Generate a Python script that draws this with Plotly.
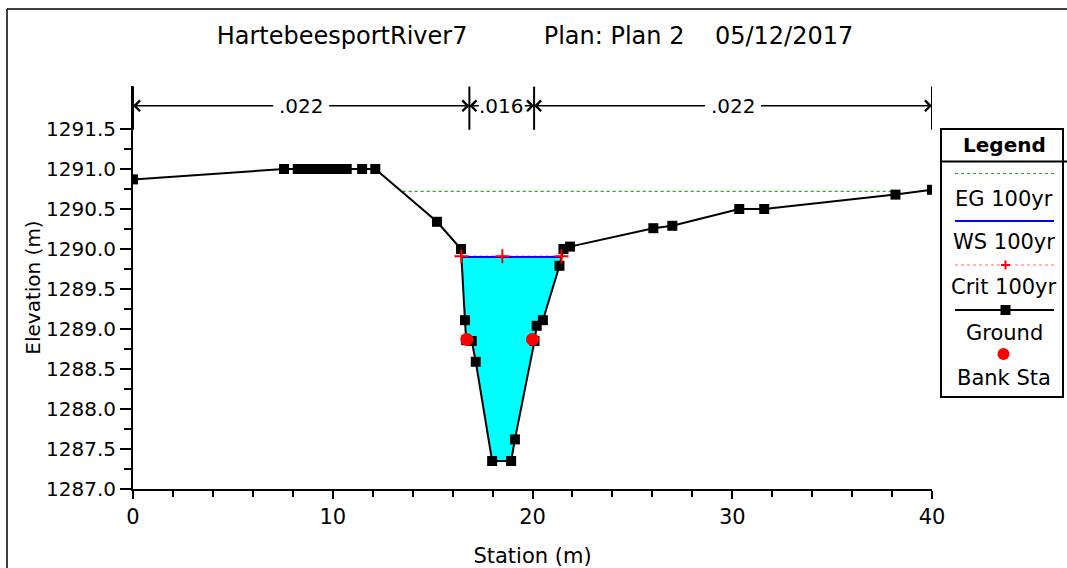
import plotly.graph_objects as go

# ---------------- data ----------------
title_parts = ["HartebeesportRiver7", "Plan: Plan 2", "05/12/2017"]

ground_sta = [0.0, 7.56, 8.25, 8.66, 9.08, 9.5, 9.91, 10.33, 10.7, 11.47, 12.13,
              15.22, 16.42, 16.62, 16.68, 16.96, 17.16, 17.98, 18.93, 19.12,
              20.1, 20.21, 20.52, 21.35, 21.55, 21.88, 26.05, 27.0, 30.35, 31.6,
              38.17, 40.0]
ground_el = [1290.87, 1291.0, 1291.0, 1291.0, 1291.0, 1291.0, 1291.0, 1291.0, 1291.0, 1291.0, 1291.0,
             1290.34, 1290.0, 1289.11, 1288.86, 1288.85, 1288.59, 1287.35, 1287.35, 1287.62,
             1288.85, 1289.04, 1289.11, 1289.79, 1290.0, 1290.03, 1290.26, 1290.29, 1290.5, 1290.5,
             1290.68, 1290.74]

bank_sta = [16.71, 20.0]
bank_el = [1288.87, 1288.87]

ws_sta = [16.44, 21.45]
ws_el = [1289.9, 1289.9]

crit_sta = [16.44, 18.49, 21.45]
crit_el = [1289.91, 1289.91, 1289.91]

eg_sta = [13.5, 38.2]
eg_el = [1290.72, 1290.72]

n_sta = [0.0, 16.84, 20.08, 40.0]
n_vals = [".022", ".016", ".022"]
n_el = 1291.79
n_sep_el = [1291.49, 1292.03]

x_ticks = [0, 10, 20, 30, 40]
y_ticks = [1287.0, 1287.5, 1288.0, 1288.5, 1289.0, 1289.5, 1290.0, 1290.5, 1291.0, 1291.5]
y_minor = [1287.25, 1287.75, 1288.25, 1288.75, 1289.25, 1289.75, 1290.25, 1290.75, 1291.25]
x_minor = [2, 4, 6, 8, 12, 14, 16, 18, 22, 24, 26, 28, 32, 34, 36, 38]

legend_labels = ["EG 100yr", "WS 100yr", "Crit 100yr", "Ground", "Bank Sta"]

# ---------------- geometry helpers ----------------
W, H = 1067, 568
L, R, T, B = 133, 932, 86, 489
FONT = "DejaVu Sans"
EG_COLOR = "rgb(40,165,40)"
CRIT_COLOR = "rgb(255,110,110)"


def pxp(x):
    return (x - L) / (R - L)


def pyp(y):
    return (B - y) / (B - T)


# water polygon
w_x = [ws_sta[0]] + [s for s in ground_sta if ws_sta[0] < s < ws_sta[1]] + [ws_sta[1]]
w_y = [ws_el[0]] + [e for s, e in zip(ground_sta, ground_el) if ws_sta[0] < s < ws_sta[1]] + [ws_el[1]]

fig = go.Figure()
fig.add_trace(go.Scatter(x=w_x, y=w_y, fill="toself", fillcolor="rgb(0,255,255)",
                         line=dict(width=0), mode="lines", hoverinfo="skip"))
fig.add_trace(go.Scatter(x=eg_sta, y=eg_el, mode="lines",
                         line=dict(color=EG_COLOR, width=1.2, dash="dot")))
fig.add_trace(go.Scatter(x=[crit_sta[0], crit_sta[-1]], y=[crit_el[0], crit_el[-1]], mode="lines",
                         line=dict(color=CRIT_COLOR, width=1.2, dash="dot")))
fig.add_trace(go.Scatter(x=ws_sta, y=ws_el, mode="lines",
                         line=dict(color="rgb(0,0,255)", width=2)))
fig.add_trace(go.Scatter(x=ground_sta, y=ground_el, mode="lines+markers",
                         line=dict(color="black", width=2),
                         marker=dict(symbol="square", size=10, color="black")))
fig.add_trace(go.Scatter(x=crit_sta, y=crit_el, mode="markers",
                         marker=dict(symbol="cross-thin", size=10,
                                     line=dict(color="red", width=2))))
fig.add_trace(go.Scatter(x=bank_sta, y=bank_el, mode="markers",
                         marker=dict(symbol="circle", size=13, color="red")))

shapes = []
annotations = []

# n-value separators and arrows
for s in n_sta:
    shapes.append(dict(type="line", xref="x", yref="y", x0=s, x1=s,
                       y0=n_sep_el[0], y1=n_sep_el[1], line=dict(color="black", width=2)))
for i, lab in enumerate(n_vals):
    a, b = n_sta[i], n_sta[i + 1]
    c = (a + b) / 2
    pad = 0 if (b - a) < 5 else 5
    for j, end in enumerate((a, b)):
        annotations.append(dict(
            x=end, y=n_el, xref="x", yref="y", ax=c, ay=n_el, axref="x", ayref="y",
            text=lab, showarrow=True, arrowhead=4, arrowsize=1.3, arrowwidth=1.6,
            arrowcolor="black", borderpad=pad, standoff=0,
            font=dict(family=FONT, size=20, color="black" if j == 0 else "rgba(0,0,0,0)")))

# outer frame (top and left edges)
shapes.append(dict(type="line", xref="paper", yref="paper", x0=pxp(7), x1=pxp(W + 5),
                   y0=pyp(9), y1=pyp(9), line=dict(color="black", width=1.5)))
shapes.append(dict(type="line", xref="paper", yref="paper", x0=pxp(7), x1=pxp(7),
                   y0=pyp(9), y1=pyp(H + 5), line=dict(color="black", width=1.5)))

# legend box
lx0, lx1, ly0, ly1 = 941, 1063, 129, 397
lc = 1004
shapes.append(dict(type="rect", xref="paper", yref="paper", x0=pxp(lx0), x1=pxp(lx1),
                   y0=pyp(ly1), y1=pyp(ly0), line=dict(color="black", width=2),
                   fillcolor="white"))
shapes.append(dict(type="line", xref="paper", yref="paper", x0=pxp(lx0), x1=pxp(1067),
                   y0=pyp(161.5), y1=pyp(161.5), line=dict(color="black", width=2)))
annotations.append(dict(x=pxp(lc), y=pyp(145), xref="paper", yref="paper", text="<b>Legend</b>",
                        showarrow=False, font=dict(family=FONT, size=20, color="black"),
                        xanchor="center", yanchor="middle"))
sx0, sx1 = 955, 1054
# EG
shapes.append(dict(type="line", xref="paper", yref="paper", x0=pxp(sx0), x1=pxp(sx1),
                   y0=pyp(173.5), y1=pyp(173.5),
                   line=dict(color=EG_COLOR, width=1.2, dash="dot")))
# WS
shapes.append(dict(type="line", xref="paper", yref="paper", x0=pxp(sx0), x1=pxp(sx1),
                   y0=pyp(221), y1=pyp(221), line=dict(color="rgb(0,0,255)", width=2)))
# Crit
shapes.append(dict(type="line", xref="paper", yref="paper", x0=pxp(sx0), x1=pxp(sx1),
                   y0=pyp(265), y1=pyp(265),
                   line=dict(color=CRIT_COLOR, width=1.2, dash="dot")))
shapes.append(dict(type="line", xref="paper", yref="paper", x0=pxp(1005.5 - 4.5), x1=pxp(1005.5 + 4.5),
                   y0=pyp(265), y1=pyp(265), line=dict(color="red", width=2)))
shapes.append(dict(type="line", xref="paper", yref="paper", x0=pxp(1005.5), x1=pxp(1005.5),
                   y0=pyp(265 - 4.5), y1=pyp(265 + 4.5), line=dict(color="red", width=2)))
# Ground
shapes.append(dict(type="line", xref="paper", yref="paper", x0=pxp(sx0), x1=pxp(sx1),
                   y0=pyp(310), y1=pyp(310), line=dict(color="black", width=2)))
shapes.append(dict(type="rect", xref="paper", yref="paper", x0=pxp(1005.5 - 5), x1=pxp(1005.5 + 5),
                   y0=pyp(310 + 5), y1=pyp(310 - 5), line=dict(width=0), fillcolor="black"))
# Bank sta
shapes.append(dict(type="circle", xref="paper", yref="paper", x0=pxp(1003.5 - 6), x1=pxp(1003.5 + 6),
                   y0=pyp(354 + 6), y1=pyp(354 - 6), line=dict(width=0), fillcolor="red"))

label_y = [198.5, 242.5, 286.5, 332.5, 377.5]
for lab, yy in zip(legend_labels, label_y):
    annotations.append(dict(x=pxp(lc), y=pyp(yy), xref="paper", yref="paper", text=lab,
                            showarrow=False, font=dict(family=FONT, size=21, color="black"),
                            xanchor="center", yanchor="middle"))

nb = "\u00a0"
title_text = title_parts[0] + nb * 10 + title_parts[1] + nb * 4 + title_parts[2]

fig.update_layout(
    width=W, height=H,
    margin=dict(l=L, r=W - R, t=T, b=H - B, pad=0),
    paper_bgcolor="white", plot_bgcolor="white",
    showlegend=False,
    title=dict(text=title_text, x=535 / W, xref="container", xanchor="center",
               y=1 - 36 / H, yref="container", yanchor="middle",
               font=dict(family=FONT, size=24, color="black")),
    font=dict(family=FONT, color="black"),
    shapes=shapes,
    annotations=annotations,
    xaxis=dict(range=[0, 40], tickvals=x_ticks, ticktext=[str(v) for v in x_ticks],
               showgrid=False, zeroline=False, showline=True, linecolor="black", linewidth=2,
               ticks="outside", ticklen=8, tickwidth=2, tickcolor="black",
               tickfont=dict(family=FONT, size=21, color="black"),
               minor=dict(tickvals=x_minor, ticks="outside", ticklen=6, tickwidth=2,
                          tickcolor="black", showgrid=False),
               title=dict(text="Station (m)", font=dict(family=FONT, size=21, color="black"),
                          standoff=22),
               automargin=False, fixedrange=True),
    yaxis=dict(range=[1287, 1287 + (B - T) / 80.0], tickvals=y_ticks,
               ticktext=[f"{v:.1f}" for v in y_ticks],
               showgrid=False, zeroline=False, showline=True, linecolor="black", linewidth=2,
               ticks="outside", ticklen=11, tickwidth=2, tickcolor="black",
               tickfont=dict(family=FONT, size=20, color="black"),
               minor=dict(tickvals=y_minor, ticks="outside", ticklen=7, tickwidth=2,
                          tickcolor="black", showgrid=False),
               title=dict(text="Elevation (m)", font=dict(family=FONT, size=20, color="black"),
                          standoff=0),
               automargin=False, fixedrange=True),
)

fig.write_html("out.html")
